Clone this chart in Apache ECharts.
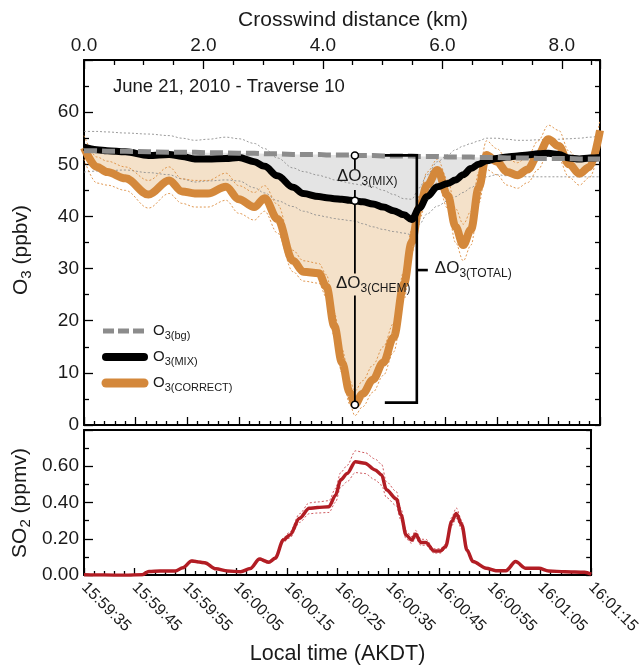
<!DOCTYPE html>
<html>
<head>
<meta charset="utf-8">
<script src="https://cdn.jsdelivr.net/npm/echarts@6/dist/echarts.min.js"></script>
<style>
  html, body { margin: 0; padding: 0; background: #ffffff; }
  #chart { width: 643px; height: 667px; }
</style>
</head>
<body>
<div id="chart"></div>
<script>
// ---- O3 traverse data: seconds after 15:59:35 AKDT, values in ppbv ----
const timeO3 = [0, 2.5, 4.5, 8, 12.5, 16.5, 19, 21.5, 24, 27.5,
  30, 33, 35, 37.5, 40.5, 42.5, 45.5, 47, 48.5, 50,
  51.5, 52.5, 54, 56, 58, 60, 62, 63.5, 65, 66.5,
  68.5, 70.5, 72, 73.5, 75, 76.5, 78, 80, 82, 84,
  86, 88, 90, 92, 94, 96, 98, 100];

const o3Bg = [52.6, 52.6, 52.5, 52.5, 52.4, 52.3, 52.3, 52.3, 52.2, 52.2,
  52.1, 52.1, 52.0, 52.0, 51.9, 51.9, 51.9, 51.8, 51.8, 51.8,
  51.8, 51.7, 51.7, 51.7, 51.6, 51.6, 51.6, 51.6, 51.5, 51.5,
  51.5, 51.4, 51.4, 51.4, 51.4, 51.3, 51.3, 51.3, 51.2, 51.2,
  51.2, 51.1, 51.1, 51.1, 51.1, 51.0, 51.0, 51.0];

const o3Mix = [53.3, 52.8, 52.6, 52.4, 51.7, 51.9, 51.5, 51.0, 51.0, 51.1,
  51.3, 50.5, 49.6, 47.8, 45.6, 44.4, 43.8, 43.6, 43.4, 43.3,
  43.1, 43.0, 42.8, 42.4, 41.8, 41.1, 40.3, 39.4, 41.6, 43.8,
  45.7, 46.3, 47.0, 48.0, 49.2, 50.0, 50.7, 51.1, 51.4, 51.6,
  51.8, 52.0, 52.1, 51.9, 51.2, 51.0, 51.2, 51.3];

const o3MixHigh = [56.3, 56.3, 56.2, 56.0, 55.8, 55.5, 55.0, 54.6, 54.8, 55.2,
  54.9, 54.0, 53.0, 51.2, 49.3, 48.6, 47.9, 47.5, 47.0, 46.7,
  46.4, 46.2, 46.0, 45.7, 45.0, 44.2, 43.4, 43.3, 45.5, 48.0,
  50.5, 51.8, 52.8, 53.5, 54.0, 54.5, 55.0, 55.0, 54.8, 54.6,
  54.6, 54.7, 54.8, 54.8, 54.9, 55.0, 55.2, 55.4];

const o3MixLow = [48.5, 48.7, 48.8, 48.9, 48.4, 48.0, 47.2, 46.6, 46.8, 47.0,
  46.8, 45.5, 44.5, 43.0, 41.9, 41.0, 40.2, 39.9, 39.6, 39.4,
  39.2, 39.1, 38.6, 38.0, 37.5, 37.1, 36.8, 36.5, 38.5, 40.5,
  42.0, 43.0, 43.8, 44.6, 45.5, 46.5, 47.6, 48.0, 47.8, 47.7,
  47.6, 47.6, 47.6, 47.6, 47.6, 47.6, 47.6, 47.6];

const o3Correct = [53.2, 49.5, 48.5, 47.3, 44.2, 46.9, 44.8, 44.4, 44.4, 45.7,
  43.3, 41.8, 43.5, 39.5, 31.5, 29.4, 29.1, 26.5, 19.0, 12.0,
  6.2, 3.9, 6.0, 8.7, 12.0, 16.8, 27.0, 35.0, 41.8, 46.0,
  48.9, 44.0, 38.0, 34.5, 37.5, 45.5, 51.8, 50.5, 48.5, 47.9,
  49.0, 51.8, 54.8, 53.5, 50.0, 48.2, 49.5, 56.5];

const o3CorrectHigh = [55.5, 51.4, 50.6, 49.5, 46.9, 49.5, 47.2, 46.9, 46.9, 48.3,
  45.9, 44.6, 45.9, 42.3, 33.5, 31.5, 31.0, 28.8, 21.5, 14.5,
  8.5, 6.5, 8.5, 11.5, 15.0, 19.5, 29.5, 37.5, 44.0, 48.5,
  51.0, 47.0, 41.5, 38.5, 41.0, 48.5, 54.5, 53.0, 51.0, 50.3,
  51.5, 54.5, 57.5, 56.5, 52.5, 50.5, 51.5, 58.5];

const o3CorrectLow = [51.0, 46.4, 46.0, 45.0, 41.6, 44.4, 42.5, 41.8, 41.8, 43.1,
  40.6, 39.3, 41.0, 36.8, 29.4, 27.6, 27.2, 24.5, 17.0, 10.0,
  4.0, 1.8, 3.5, 6.3, 9.5, 14.0, 24.0, 33.0, 39.5, 43.5,
  46.5, 41.5, 35.0, 31.5, 34.5, 42.5, 49.0, 48.0, 46.0, 45.4,
  46.5, 49.0, 52.5, 51.0, 47.5, 46.0, 47.5, 54.0];

// ---- SO2 data: seconds after 15:59:35 AKDT, values in ppmv ----
const timeSO2 = [0, 4, 8, 11.5, 12.8, 15, 18, 19.5, 21.2, 23.8,
  26, 28.3, 30.9, 32.8, 34.6, 36.4, 37.7, 39.3, 40.6, 42.5,
  44.4, 46, 48.3, 49.6, 50.6, 51.9, 53.5, 55.4, 57.4, 58.7,
  59.6, 61.6, 62.5, 63.5, 64.6, 65.4, 66.4, 67.4, 69, 70.3,
  71.3, 72.5, 73.4, 74.5, 75.5, 76.7, 79.3, 81.2, 83.2, 85.1,
  87.1, 89.7, 91.6, 94.8, 98.7, 100];

const so2 = [0.002, 0.000, -0.002, 0.002, 0.020, 0.022, 0.022, 0.040, 0.077, 0.068,
  0.034, 0.022, 0.018, 0.036, 0.088, 0.070, 0.092, 0.193, 0.221, 0.313,
  0.368, 0.372, 0.377, 0.440, 0.525, 0.560, 0.625, 0.617, 0.580, 0.552,
  0.470, 0.420, 0.332, 0.221, 0.193, 0.225, 0.180, 0.180, 0.133, 0.133,
  0.157, 0.295, 0.340, 0.276, 0.138, 0.074, 0.037, 0.024, 0.024, 0.074,
  0.037, 0.037, 0.022, 0.018, 0.015, 0.005];

const so2High = [0.004, 0.002, 0.000, 0.004, 0.023, 0.025, 0.025, 0.044, 0.083, 0.074,
  0.037, 0.025, 0.021, 0.040, 0.095, 0.076, 0.099, 0.205, 0.238, 0.338,
  0.398, 0.403, 0.410, 0.478, 0.565, 0.605, 0.685, 0.675, 0.640, 0.610,
  0.515, 0.460, 0.365, 0.243, 0.212, 0.246, 0.197, 0.197, 0.145, 0.145,
  0.170, 0.318, 0.370, 0.300, 0.150, 0.080, 0.040, 0.026, 0.026, 0.080,
  0.040, 0.040, 0.024, 0.020, 0.017, 0.007];

const so2Low = [0.000, -0.002, -0.004, 0.000, 0.017, 0.019, 0.019, 0.036, 0.071, 0.062,
  0.031, 0.019, 0.015, 0.032, 0.081, 0.064, 0.085, 0.181, 0.205, 0.290,
  0.338, 0.342, 0.345, 0.402, 0.485, 0.515, 0.565, 0.560, 0.525, 0.495,
  0.428, 0.382, 0.300, 0.200, 0.175, 0.205, 0.164, 0.164, 0.121, 0.121,
  0.144, 0.272, 0.312, 0.253, 0.126, 0.068, 0.034, 0.022, 0.022, 0.068,
  0.034, 0.034, 0.020, 0.016, 0.013, 0.003];

// ---- axis tick labels ----
const timeLabels = ['15:59:35', '15:59:45', '15:59:55', '16:00:05', '16:00:15', '16:00:25',
  '16:00:35', '16:00:45', '16:00:55', '16:01:05', '16:01:15'];
const distanceMax = 8.64;     // km covered by the traverse
const bracketTime = 64.5;     // where the total-change bracket sits

// ---------------------------------------------------------------------
const FONT = '"Liberation Sans", Arial, Helvetica, sans-serif';
const INK = '#1a1a1a';
const ORANGE = '#d4883b';
const ORANGE_FILL = '#f4e1c9';
const GREY_FILL = '#e4e4e4';
const GREY_DASH = '#8c8c8c';
const RED = '#b21d24';

const pairs = (xs, ys) => xs.map((x, i) => [x, ys[i]]);

// lower edges of the two shaded bands
const mixBandLow = o3Bg.map((b, i) => Math.min(b, o3Mix[i]));
const chemBandLow = o3Mix.map((m, i) => Math.min(m, o3Correct[i]));

// point of largest chemical loss
let iMin = 0;
o3Correct.forEach((v, i) => { if (v < o3Correct[iMin]) iMin = i; });

const SMOOTH = 0.35;

function richSub(mainSize, subSize, drop) {
  return {
    m: { fontSize: mainSize, fontFamily: FONT, color: INK, fill: INK, lineHeight: mainSize + 3, verticalAlign: 'top' },
    s: { fontSize: subSize, fontFamily: FONT, color: INK, fill: INK, lineHeight: subSize + 2, verticalAlign: 'top', padding: [drop, 0, 0, 0] }
  };
}

function lineSeries(xs, ys, style, extra) {
  return Object.assign({
    type: 'line',
    data: pairs(xs, ys),
    showSymbol: false,
    symbol: 'none',
    smooth: SMOOTH,
    smoothMonotone: 'x',
    silent: true,
    lineStyle: style
  }, extra || {});
}

// filled band between two curves sharing the same time samples
function bandSeries(xs, upper, lower, color) {
  return {
    type: 'custom', xAxisIndex: 0, yAxisIndex: 0, z: 1, silent: true, clip: true,
    data: [[xs[0], upper[0]]],
    renderItem(params, api) {
      const top = xs.map((x, i) => api.coord([x, upper[i]]));
      const bottom = xs.map((x, i) => api.coord([x, lower[i]])).reverse();
      return { type: 'polygon', shape: { points: top.concat(bottom) }, style: { fill: color } };
    }
  };
}

const tickStyle = { color: '#000', width: 1.3 };
const axisLine = { show: true, onZero: false, lineStyle: { color: '#000', width: 2 } };

const chart = echarts.init(document.getElementById('chart'), null, { renderer: 'canvas' });

const option = {
  animation: false,
  backgroundColor: '#ffffff',
  title: {
    text: 'June 21, 2010 - Traverse 10',
    left: 108, top: 72,
    textStyle: { fontFamily: FONT, fontSize: 18.5, fontWeight: 'normal', color: INK }
  },
  grid: [
    { left: 84, top: 60, width: 516, height: 365 },
    { left: 84, top: 430, width: 516, height: 145 }
  ],
  xAxis: [
    { // time ticks under the O3 panel
      type: 'value', gridIndex: 0, position: 'bottom', min: 0, max: 100, interval: 10,
      axisLine, splitLine: { show: false },
      axisTick: { inside: true, length: 8, lineStyle: tickStyle },
      minorTick: { show: true, splitNumber: 5, length: 4, lineStyle: tickStyle },
      axisLabel: { show: false }
    },
    { // crosswind distance on top
      type: 'value', gridIndex: 0, position: 'top', min: 0, max: distanceMax, interval: 2,
      axisLine, splitLine: { show: false },
      axisTick: { inside: true, length: 9, lineStyle: tickStyle },
      minorTick: { show: true, splitNumber: 4, length: 5, lineStyle: tickStyle },
      axisLabel: {
        margin: 5, fontFamily: FONT, fontSize: 19, color: INK, showMaxLabel: false,
        formatter: v => v.toFixed(1)
      },
      name: 'Crosswind distance (km)', nameLocation: 'middle', nameGap: 28,
      nameTextStyle: { fontFamily: FONT, fontSize: 21, color: INK, padding: [0, 0, 0, 22] }
    },
    { // local time under the SO2 panel
      type: 'value', gridIndex: 1, position: 'bottom', min: 0, max: 100, interval: 10,
      axisLine, splitLine: { show: false },
      axisTick: { inside: true, length: 7, lineStyle: tickStyle },
      minorTick: { show: true, splitNumber: 5, length: 4, lineStyle: tickStyle },
      axisLabel: {
        rotate: -45, margin: 10, fontFamily: FONT, fontSize: 16, color: INK,
        formatter: v => timeLabels[Math.round(v / 10)] || ''
      },
      name: 'Local time (AKDT)', nameLocation: 'middle', nameGap: 68,
      nameTextStyle: { fontFamily: FONT, fontSize: 21.5, color: INK }
    },
    { // frame top of SO2 panel
      type: 'value', gridIndex: 1, position: 'top', min: 0, max: 100,
      axisLine, splitLine: { show: false }, axisTick: { show: false }, axisLabel: { show: false }
    }
  ],
  yAxis: [
    {
      type: 'value', gridIndex: 0, position: 'left', min: 0, max: 70, interval: 10,
      axisLine, splitLine: { show: false },
      axisTick: { inside: true, length: 9, lineStyle: tickStyle },
      minorTick: { show: true, splitNumber: 2, length: 5, lineStyle: tickStyle },
      axisLabel: { margin: 5, fontFamily: FONT, fontSize: 19, color: INK, showMaxLabel: false }
    },
    {
      type: 'value', gridIndex: 0, position: 'right', min: 0, max: 70, interval: 5,
      axisLine, splitLine: { show: false },
      axisTick: { inside: true, length: 5, lineStyle: tickStyle },
      axisLabel: { show: false }
    },
    {
      type: 'value', gridIndex: 1, position: 'left', min: 0, max: 0.8, interval: 0.2,
      axisLine, splitLine: { show: false },
      axisTick: { inside: true, length: 9, lineStyle: tickStyle },
      minorTick: { show: true, splitNumber: 2, length: 5, lineStyle: tickStyle },
      axisLabel: {
        margin: 5, fontFamily: FONT, fontSize: 19, color: INK, showMaxLabel: false,
        formatter: v => v.toFixed(2)
      }
    },
    {
      type: 'value', gridIndex: 1, position: 'right', min: 0, max: 0.8, interval: 0.1,
      axisLine, splitLine: { show: false },
      axisTick: { inside: true, length: 5, lineStyle: tickStyle },
      axisLabel: { show: false }
    }
  ],
  graphic: [
    // y-axis titles
    { type: 'text', x: 23, y: 250, rotation: Math.PI / 2, z: 100,
      style: { text: '{m|O}{s|3}{m| (ppbv)}', rich: richSub(21, 15, 8), align: 'center', verticalAlign: 'middle' } },
    { type: 'text', x: 22, y: 503, rotation: Math.PI / 2, z: 100,
      style: { text: '{m|SO}{s|2}{m| (ppmv)}', rich: richSub(21, 15, 8), align: 'center', verticalAlign: 'middle' } },
    // legend
    { type: 'line', z: 100, shape: { x1: 103, y1: 331, x2: 147, y2: 331 },
      style: { stroke: GREY_DASH, lineWidth: 5, lineDash: [11, 4] } },
    { type: 'line', z: 100, shape: { x1: 106, y1: 357, x2: 144, y2: 357 },
      style: { stroke: '#000', lineWidth: 8, lineCap: 'round' } },
    { type: 'line', z: 100, shape: { x1: 106, y1: 383, x2: 144, y2: 383 },
      style: { stroke: ORANGE, lineWidth: 9, lineCap: 'round' } },
    { type: 'text', x: 153, y: 332, z: 100,
      style: { text: '{m|O}{s|3(bg)}', rich: richSub(15, 11, 7), align: 'left', verticalAlign: 'middle' } },
    { type: 'text', x: 153, y: 358, z: 100,
      style: { text: '{m|O}{s|3(MIX)}', rich: richSub(15, 11, 7), align: 'left', verticalAlign: 'middle' } },
    { type: 'text', x: 153, y: 384, z: 100,
      style: { text: '{m|O}{s|3(CORRECT)}', rich: richSub(15, 11, 7), align: 'left', verticalAlign: 'middle' } }
  ],
  series: [
    // shaded bands
    bandSeries(timeO3, o3Bg, mixBandLow, GREY_FILL),
    bandSeries(timeO3, o3Mix, chemBandLow, ORANGE_FILL),
    // uncertainty envelopes
    lineSeries(timeO3, o3MixHigh, { color: '#8f8f8f', width: 0.9, type: [2, 2] }, { xAxisIndex: 0, yAxisIndex: 0, z: 2 }),
    lineSeries(timeO3, o3MixLow, { color: '#8f8f8f', width: 0.9, type: [2, 2] }, { xAxisIndex: 0, yAxisIndex: 0, z: 2 }),
    lineSeries(timeO3, o3CorrectHigh, { color: '#dc8d40', width: 0.9, type: [2, 2] }, { xAxisIndex: 0, yAxisIndex: 0, z: 2 }),
    lineSeries(timeO3, o3CorrectLow, { color: '#dc8d40', width: 0.9, type: [2, 2] }, { xAxisIndex: 0, yAxisIndex: 0, z: 2 }),
    // main O3 traces
    lineSeries(timeO3, o3Correct, { color: ORANGE, width: 8, join: 'round' }, { xAxisIndex: 0, yAxisIndex: 0, z: 3 }),
    lineSeries(timeO3, o3Mix, { color: '#000', width: 7, join: 'round' }, { xAxisIndex: 0, yAxisIndex: 0, z: 4 }),
    lineSeries(timeO3, o3Bg, { color: GREY_DASH, width: 5, type: [13, 5] }, { xAxisIndex: 0, yAxisIndex: 0, z: 5, smooth: false }),
    // ΔO3 markers and bracket
    {
      type: 'custom', xAxisIndex: 0, yAxisIndex: 0, z: 10, silent: true,
      data: [[timeO3[iMin], o3Bg[iMin], o3Mix[iMin], o3Correct[iMin], bracketTime]],
      renderItem(params, api) {
        const top = api.coord([api.value(0), api.value(1)]);
        const mid = api.coord([api.value(0), api.value(2)]);
        const bot = api.coord([api.value(0), api.value(3)]);
        const bx = api.coord([api.value(4), 0])[0];
        const x = top[0];
        const yMixLbl = (top[1] + mid[1]) / 2;
        const yChemLbl = mid[1] + 0.41 * (bot[1] - mid[1]);
        const yTotal = top[1] + 0.46 * (bot[1] - top[1]);
        const seg = (y1, y2) => ({ type: 'line', shape: { x1: x, y1, x2: x, y2 },
          style: { stroke: '#000', lineWidth: 1.8 } });
        const dot = p => ({ type: 'circle', shape: { cx: p[0], cy: p[1], r: 3.5 },
          style: { fill: '#fff', stroke: '#000', lineWidth: 1.5 } });
        const label = (lx, ly, sub) => ({ type: 'text', x: lx, y: ly,
          style: { text: '{m|ΔO}{s|' + sub + '}', rich: richSub(17, 12, 8), align: 'left', verticalAlign: 'middle' } });
        return {
          type: 'group',
          children: [
            seg(top[1], yMixLbl - 9), seg(yMixLbl + 12, mid[1]),
            seg(mid[1], yChemLbl - 11), seg(yChemLbl + 11, bot[1]),
            { type: 'polyline', shape: { points: [[bx - 32, top[1]], [bx, top[1]], [bx, bot[1] - 2], [bx - 32, bot[1] - 2]] },
              style: { stroke: '#000', lineWidth: 2.6, fill: null } },
            { type: 'line', shape: { x1: bx, y1: yTotal, x2: bx + 11, y2: yTotal },
              style: { stroke: '#000', lineWidth: 2.6 } },
            dot(top), dot(mid), dot(bot),
            label(x - 18, yMixLbl, '3(MIX)'),
            label(x - 19, yChemLbl, '3(CHEM)'),
            label(bx + 18, yTotal, '3(TOTAL)')
          ]
        };
      }
    },
    // SO2 panel
    lineSeries(timeSO2, so2High, { color: '#c84a4f', width: 0.9, type: [2, 2] }, { xAxisIndex: 2, yAxisIndex: 2, z: 2, smooth: 0.3 }),
    lineSeries(timeSO2, so2Low, { color: '#c84a4f', width: 0.9, type: [2, 2] }, { xAxisIndex: 2, yAxisIndex: 2, z: 2, smooth: 0.3 }),
    lineSeries(timeSO2, so2, { color: RED, width: 3.5, join: 'round' }, { xAxisIndex: 2, yAxisIndex: 2, z: 3, smooth: 0.3 })
  ]
};

chart.setOption(option);
</script>
</body>
</html>
